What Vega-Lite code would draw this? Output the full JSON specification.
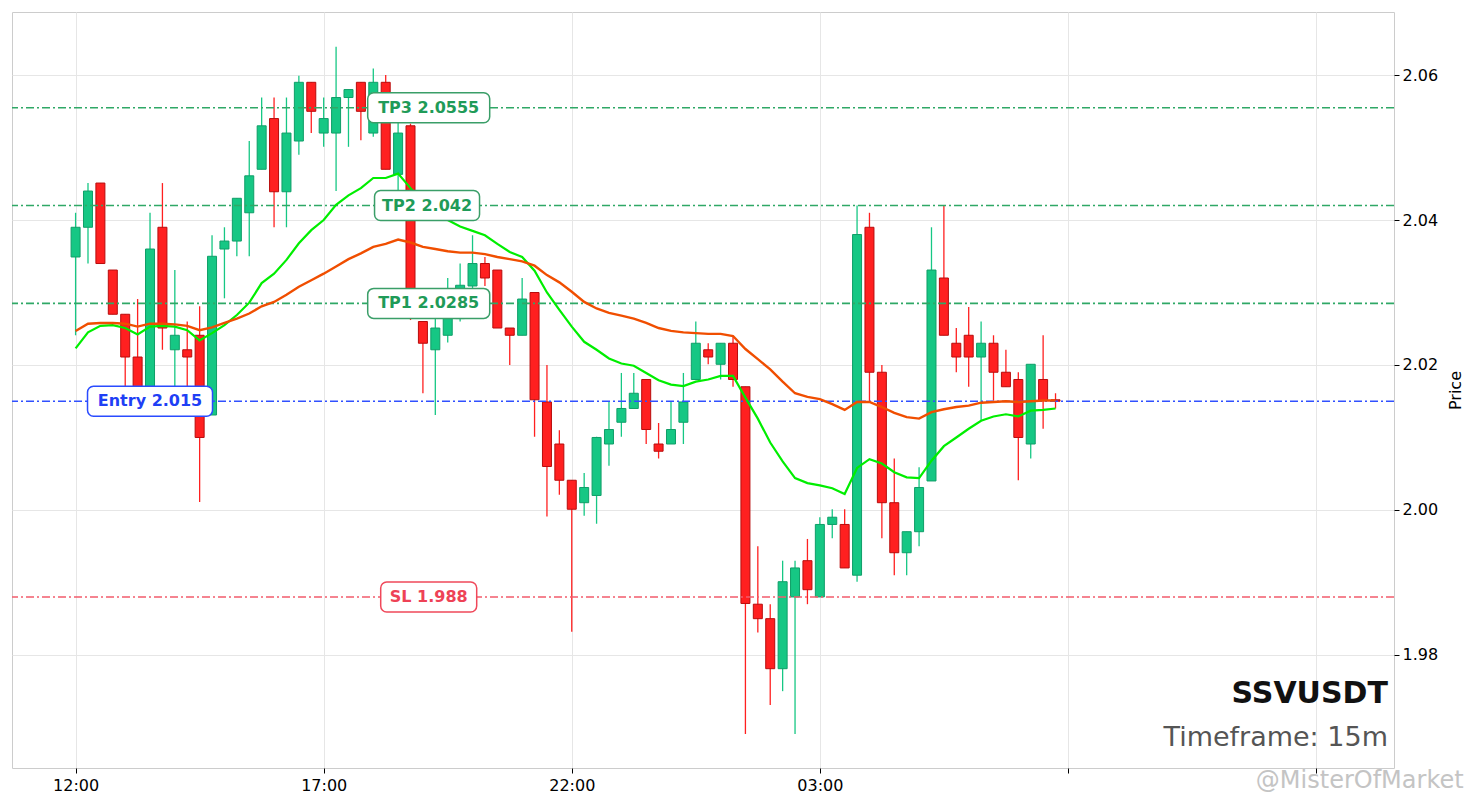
{
  "$schema": "https://vega.github.io/schema/vega-lite/v6.json",
  "width": 1382,
  "height": 756,
  "autosize": "none",
  "padding": {"left": 12, "top": 12, "right": 85, "bottom": 40},
  "background": "white",
  "title": {"text": "@MisterOfMarket", "orient": "bottom", "anchor": "end", "frame": "bounds", "fontSize": 24, "font": "DejaVu Sans", "fontWeight": "normal", "color": "#c4c4c4", "offset": -24},
  "config": {
    "font": "DejaVu Sans",
    "view": {"stroke": "#cccccc", "strokeWidth": 1},
    "axis": {"domain": false, "grid": true, "gridColor": "#e6e6e6", "gridWidth": 1, "tickColor": "#000000", "tickSize": 5, "tickWidth": 1, "labelFontSize": 16, "labelColor": "#000000", "labelFont": "DejaVu Sans", "titleFont": "DejaVu Sans", "titleFontSize": 16, "titleFontWeight": "normal", "titleColor": "#000000"}
  },
  "datasets": {
    "candles": [
      {"t":"2024-01-01T12:00","o":2.0349,"h":2.0410,"l":2.0241,"c":2.0390,"f":2.0223,"s":2.0247},
      {"t":"2024-01-01T12:15","o":2.0390,"h":2.0451,"l":2.0340,"c":2.0440,"f":2.0245,"s":2.0257},
      {"t":"2024-01-01T12:30","o":2.0451,"h":2.0451,"l":2.0340,"c":2.0340,"f":2.0254,"s":2.0258},
      {"t":"2024-01-01T12:45","o":2.0331,"h":2.0331,"l":2.0270,"c":2.0270,"f":2.0255,"s":2.0258},
      {"t":"2024-01-01T13:00","o":2.0270,"h":2.0270,"l":2.0165,"c":2.0211,"f":2.0251,"s":2.0257},
      {"t":"2024-01-01T13:15","o":2.0211,"h":2.0291,"l":2.0160,"c":2.0168,"f":2.0242,"s":2.0253},
      {"t":"2024-01-01T13:30","o":2.0168,"h":2.0410,"l":2.0160,"c":2.0360,"f":2.0253,"s":2.0257},
      {"t":"2024-01-01T13:45","o":2.0390,"h":2.0451,"l":2.0221,"c":2.0251,"f":2.0254,"s":2.0257},
      {"t":"2024-01-01T14:00","o":2.0221,"h":2.0331,"l":2.0165,"c":2.0241,"f":2.0253,"s":2.0256},
      {"t":"2024-01-01T14:15","o":2.0221,"h":2.0260,"l":2.0170,"c":2.0211,"f":2.0248,"s":2.0254},
      {"t":"2024-01-01T14:30","o":2.0241,"h":2.0281,"l":2.0011,"c":2.0100,"f":2.0234,"s":2.0248},
      {"t":"2024-01-01T14:45","o":2.0131,"h":2.0379,"l":2.0131,"c":2.0350,"f":2.0244,"s":2.0252},
      {"t":"2024-01-01T15:00","o":2.0360,"h":2.0390,"l":2.0292,"c":2.0371,"f":2.0255,"s":2.0258},
      {"t":"2024-01-01T15:15","o":2.0371,"h":2.0430,"l":2.0350,"c":2.0430,"f":2.0269,"s":2.0264},
      {"t":"2024-01-01T15:30","o":2.0410,"h":2.0509,"l":2.0350,"c":2.0461,"f":2.0286,"s":2.0271},
      {"t":"2024-01-01T15:45","o":2.0470,"h":2.0569,"l":2.0470,"c":2.0530,"f":2.0313,"s":2.0281},
      {"t":"2024-01-01T16:00","o":2.0540,"h":2.0569,"l":2.0390,"c":2.0439,"f":2.0326,"s":2.0287},
      {"t":"2024-01-01T16:15","o":2.0439,"h":2.0569,"l":2.0390,"c":2.0520,"f":2.0345,"s":2.0297},
      {"t":"2024-01-01T16:30","o":2.0509,"h":2.0599,"l":2.0490,"c":2.0590,"f":2.0368,"s":2.0308},
      {"t":"2024-01-01T16:45","o":2.0590,"h":2.0590,"l":2.0520,"c":2.0550,"f":2.0386,"s":2.0317},
      {"t":"2024-01-01T17:00","o":2.0520,"h":2.0569,"l":2.0501,"c":2.0540,"f":2.0400,"s":2.0326},
      {"t":"2024-01-01T17:15","o":2.0520,"h":2.0639,"l":2.0440,"c":2.0569,"f":2.0421,"s":2.0336},
      {"t":"2024-01-01T17:30","o":2.0569,"h":2.0580,"l":2.0501,"c":2.0580,"f":2.0434,"s":2.0346},
      {"t":"2024-01-01T17:45","o":2.0590,"h":2.0590,"l":2.0510,"c":2.0550,"f":2.0444,"s":2.0354},
      {"t":"2024-01-01T18:00","o":2.0520,"h":2.0609,"l":2.0515,"c":2.0590,"f":2.0458,"s":2.0363},
      {"t":"2024-01-01T18:15","o":2.0590,"h":2.0600,"l":2.0470,"c":2.0470,"f":2.0458,"s":2.0367},
      {"t":"2024-01-01T18:30","o":2.0463,"h":2.0545,"l":2.0441,"c":2.0520,"f":2.0464,"s":2.0373},
      {"t":"2024-01-01T18:45","o":2.0530,"h":2.0533,"l":2.0262,"c":2.0265,"f":2.0444,"s":2.0369},
      {"t":"2024-01-01T19:00","o":2.0260,"h":2.0260,"l":2.0161,"c":2.0230,"f":2.0425,"s":2.0363},
      {"t":"2024-01-01T19:15","o":2.0221,"h":2.0265,"l":2.0131,"c":2.0251,"f":2.0411,"s":2.0360},
      {"t":"2024-01-01T19:30","o":2.0241,"h":2.0320,"l":2.0231,"c":2.0264,"f":2.0400,"s":2.0357},
      {"t":"2024-01-01T19:45","o":2.0264,"h":2.0340,"l":2.0260,"c":2.0310,"f":2.0391,"s":2.0355},
      {"t":"2024-01-01T20:00","o":2.0309,"h":2.0379,"l":2.0300,"c":2.0340,"f":2.0385,"s":2.0355},
      {"t":"2024-01-01T20:15","o":2.0340,"h":2.0349,"l":2.0309,"c":2.0320,"f":2.0379,"s":2.0353},
      {"t":"2024-01-01T20:30","o":2.0331,"h":2.0331,"l":2.0251,"c":2.0251,"f":2.0367,"s":2.0349},
      {"t":"2024-01-01T20:45","o":2.0251,"h":2.0251,"l":2.0200,"c":2.0241,"f":2.0356,"s":2.0346},
      {"t":"2024-01-01T21:00","o":2.0241,"h":2.0320,"l":2.0241,"c":2.0291,"f":2.0349,"s":2.0343},
      {"t":"2024-01-01T21:15","o":2.0300,"h":2.0300,"l":2.0101,"c":2.0152,"f":2.0330,"s":2.0337},
      {"t":"2024-01-01T21:30","o":2.0149,"h":2.0200,"l":1.9991,"c":2.0060,"f":2.0300,"s":2.0324},
      {"t":"2024-01-01T21:45","o":2.0091,"h":2.0110,"l":2.0021,"c":2.0041,"f":2.0276,"s":2.0314},
      {"t":"2024-01-01T22:00","o":2.0041,"h":2.0041,"l":1.9832,"c":2.0001,"f":2.0253,"s":2.0301},
      {"t":"2024-01-01T22:15","o":2.0010,"h":2.0051,"l":1.9992,"c":2.0031,"f":2.0232,"s":2.0287},
      {"t":"2024-01-01T22:30","o":2.0020,"h":2.0101,"l":1.9981,"c":2.0100,"f":2.0221,"s":2.0278},
      {"t":"2024-01-01T22:45","o":2.0091,"h":2.0149,"l":2.0061,"c":2.0111,"f":2.0209,"s":2.0272},
      {"t":"2024-01-01T23:00","o":2.0121,"h":2.0189,"l":2.0101,"c":2.0140,"f":2.0202,"s":2.0268},
      {"t":"2024-01-01T23:15","o":2.0140,"h":2.0189,"l":2.0140,"c":2.0161,"f":2.0199,"s":2.0264},
      {"t":"2024-01-01T23:30","o":2.0180,"h":2.0180,"l":2.0091,"c":2.0111,"f":2.0189,"s":2.0258},
      {"t":"2024-01-01T23:45","o":2.0091,"h":2.0120,"l":2.0071,"c":2.0081,"f":2.0179,"s":2.0251},
      {"t":"2024-01-02T00:00","o":2.0091,"h":2.0149,"l":2.0091,"c":2.0111,"f":2.0173,"s":2.0247},
      {"t":"2024-01-02T00:15","o":2.0121,"h":2.0189,"l":2.0091,"c":2.0149,"f":2.0171,"s":2.0245},
      {"t":"2024-01-02T00:30","o":2.0180,"h":2.0260,"l":2.0180,"c":2.0230,"f":2.0177,"s":2.0244},
      {"t":"2024-01-02T00:45","o":2.0221,"h":2.0230,"l":2.0201,"c":2.0211,"f":2.0180,"s":2.0243},
      {"t":"2024-01-02T01:00","o":2.0201,"h":2.0230,"l":2.0180,"c":2.0230,"f":2.0185,"s":2.0243},
      {"t":"2024-01-02T01:15","o":2.0230,"h":2.0239,"l":2.0170,"c":2.0180,"f":2.0185,"s":2.0240},
      {"t":"2024-01-02T01:30","o":2.0170,"h":2.0170,"l":1.9691,"c":1.9871,"f":2.0155,"s":2.0222},
      {"t":"2024-01-02T01:45","o":1.9870,"h":1.9950,"l":1.9831,"c":1.9850,"f":2.0126,"s":2.0208},
      {"t":"2024-01-02T02:00","o":1.9850,"h":1.9870,"l":1.9731,"c":1.9781,"f":2.0093,"s":2.0194},
      {"t":"2024-01-02T02:15","o":1.9781,"h":1.9930,"l":1.9750,"c":1.9901,"f":2.0067,"s":2.0177},
      {"t":"2024-01-02T02:30","o":1.9880,"h":1.9930,"l":1.9691,"c":1.9920,"f":2.0044,"s":2.0161},
      {"t":"2024-01-02T02:45","o":1.9930,"h":1.9960,"l":1.9870,"c":1.9890,"f":2.0037,"s":2.0156},
      {"t":"2024-01-02T03:00","o":1.9880,"h":1.9990,"l":1.9880,"c":1.9980,"f":2.0034,"s":2.0153},
      {"t":"2024-01-02T03:15","o":1.9980,"h":2.0001,"l":1.9961,"c":1.9990,"f":2.0030,"s":2.0146},
      {"t":"2024-01-02T03:30","o":1.9980,"h":2.0001,"l":1.9920,"c":1.9920,"f":2.0022,"s":2.0138},
      {"t":"2024-01-02T03:45","o":1.9910,"h":2.0420,"l":1.9901,"c":2.0380,"f":2.0058,"s":2.0149},
      {"t":"2024-01-02T04:00","o":2.0390,"h":2.0410,"l":2.0149,"c":2.0190,"f":2.0070,"s":2.0149},
      {"t":"2024-01-02T04:15","o":2.0190,"h":2.0200,"l":1.9961,"c":2.0010,"f":2.0064,"s":2.0142},
      {"t":"2024-01-02T04:30","o":2.0010,"h":2.0071,"l":1.9910,"c":1.9941,"f":2.0052,"s":2.0134},
      {"t":"2024-01-02T04:45","o":1.9941,"h":1.9970,"l":1.9910,"c":1.9970,"f":2.0045,"s":2.0128},
      {"t":"2024-01-02T05:00","o":1.9970,"h":2.0059,"l":1.9950,"c":2.0031,"f":2.0044,"s":2.0126},
      {"t":"2024-01-02T05:15","o":2.0040,"h":2.0390,"l":2.0040,"c":2.0331,"f":2.0068,"s":2.0135},
      {"t":"2024-01-02T05:30","o":2.0320,"h":2.0420,"l":2.0241,"c":2.0241,"f":2.0088,"s":2.0139},
      {"t":"2024-01-02T05:45","o":2.0230,"h":2.0251,"l":2.0190,"c":2.0211,"f":2.0100,"s":2.0142},
      {"t":"2024-01-02T06:00","o":2.0241,"h":2.0280,"l":2.0170,"c":2.0211,"f":2.0112,"s":2.0144},
      {"t":"2024-01-02T06:15","o":2.0211,"h":2.0260,"l":2.0123,"c":2.0230,"f":2.0123,"s":2.0148},
      {"t":"2024-01-02T06:30","o":2.0230,"h":2.0241,"l":2.0151,"c":2.0190,"f":2.0129,"s":2.0149},
      {"t":"2024-01-02T06:45","o":2.0190,"h":2.0221,"l":2.0170,"c":2.0170,"f":2.0132,"s":2.0150},
      {"t":"2024-01-02T07:00","o":2.0180,"h":2.0190,"l":2.0041,"c":2.0100,"f":2.0129,"s":2.0149},
      {"t":"2024-01-02T07:15","o":2.0091,"h":2.0201,"l":2.0071,"c":2.0201,"f":2.0137,"s":2.0150},
      {"t":"2024-01-02T07:30","o":2.0180,"h":2.0241,"l":2.0112,"c":2.0151,"f":2.0138,"s":2.0151},
      {"t":"2024-01-02T07:45","o":2.0152,"h":2.0161,"l":2.0140,"c":2.0150,"f":2.0140,"s":2.0151}
    ],
    "levels": [
      {"name":"TP3","label":"TP3 2.0555","price":2.0555,"kind":"tp","t":"2024-01-01T19:07"},
      {"name":"TP2","label":"TP2 2.042","price":2.042,"kind":"tp","t":"2024-01-01T19:05"},
      {"name":"TP1","label":"TP1 2.0285","price":2.0285,"kind":"tp","t":"2024-01-01T19:07"},
      {"name":"Entry","label":"Entry 2.015","price":2.015,"kind":"entry","t":"2024-01-01T13:30"},
      {"name":"SL","label":"SL 1.988","price":1.988,"kind":"sl","t":"2024-01-01T19:07"}
    ]
  },
  "layer": [
    {
      "data": {"name": "candles"},
      "mark": {"type": "rule", "strokeWidth": 1.3},
      "encoding": {
        "x": {"field": "t", "type": "temporal", "title": null,
          "scale": {"domain": [{"year":2024,"month":1,"date":1,"hours":10,"minutes":43,"seconds":6},{"year":2024,"month":1,"date":2,"hours":14,"minutes":34,"seconds":18}], "nice": false, "padding": 0},
          "axis": {"values": [{"year":2024,"month":1,"date":1,"hours":12},{"year":2024,"month":1,"date":1,"hours":17},{"year":2024,"month":1,"date":1,"hours":22},{"year":2024,"month":1,"date":2,"hours":3},{"year":2024,"month":1,"date":2,"hours":8},{"year":2024,"month":1,"date":2,"hours":13}],
            "labelExpr": "(hours(datum.value) == 8 || hours(datum.value) == 13) ? '' : timeFormat(datum.value, '%H:%M')", "labelPadding": 4, "labelAngle": 0}},
        "y": {"field": "l", "type": "quantitative", "title": "Price",
          "scale": {"domain": [1.9644, 2.0687], "nice": false, "zero": false},
          "axis": {"orient": "right", "values": [1.98, 2.0, 2.02, 2.04, 2.06], "format": ".2f", "labelPadding": 3, "titlePadding": 10, "titleAngle": 270, "titleBaseline": "top"}},
        "y2": {"field": "h"},
        "color": {"condition": {"test": "datum.c >= datum.o", "value": "#16c784"}, "value": "#ff2020"}
      }
    },
    {
      "data": {"name": "candles"},
      "mark": {"type": "bar", "width": 9, "strokeWidth": 1},
      "encoding": {
        "x": {"field": "t", "type": "temporal", "scale": {"domain": [{"year":2024,"month":1,"date":1,"hours":10,"minutes":43,"seconds":6},{"year":2024,"month":1,"date":2,"hours":14,"minutes":34,"seconds":18}], "nice": false, "padding": 0}},
        "y": {"field": "o", "type": "quantitative", "title": "Price", "scale": {"domain": [1.9644, 2.0687], "nice": false, "zero": false}},
        "y2": {"field": "c"},
        "fill": {"condition": {"test": "datum.c >= datum.o", "value": "#16c784"}, "value": "#ff2020"},
        "stroke": {"condition": {"test": "datum.c >= datum.o", "value": "#0f9e68"}, "value": "#b80c0c"}
      }
    },
    {
      "data": {"name": "levels"},
      "mark": {"type": "rule", "strokeWidth": 1.6, "strokeDash": [8, 3, 2, 3]},
      "encoding": {
        "y": {"field": "price", "type": "quantitative", "title": "Price", "scale": {"domain": [1.9644, 2.0687], "nice": false, "zero": false}},
        "color": {"condition": [{"test": "datum.kind == 'entry'", "value": "#3050ff"}, {"test": "datum.kind == 'sl'", "value": "#f25c6c"}], "value": "#2fa866"}
      }
    },
    {
      "data": {"name": "candles"},
      "mark": {"type": "line", "strokeWidth": 2.2, "color": "#00ee00"},
      "encoding": {
        "x": {"field": "t", "type": "temporal", "scale": {"domain": [{"year":2024,"month":1,"date":1,"hours":10,"minutes":43,"seconds":6},{"year":2024,"month":1,"date":2,"hours":14,"minutes":34,"seconds":18}], "nice": false, "padding": 0}},
        "y": {"field": "f", "type": "quantitative", "title": "Price", "scale": {"domain": [1.9644, 2.0687], "nice": false, "zero": false}}
      }
    },
    {
      "data": {"name": "candles"},
      "mark": {"type": "line", "strokeWidth": 2.4, "color": "#f04e00"},
      "encoding": {
        "x": {"field": "t", "type": "temporal", "scale": {"domain": [{"year":2024,"month":1,"date":1,"hours":10,"minutes":43,"seconds":6},{"year":2024,"month":1,"date":2,"hours":14,"minutes":34,"seconds":18}], "nice": false, "padding": 0}},
        "y": {"field": "s", "type": "quantitative", "title": "Price", "scale": {"domain": [1.9644, 2.0687], "nice": false, "zero": false}}
      }
    },
    {
      "data": {"name": "levels"},
      "transform": [{"filter": "datum.name == 'TP3' || datum.name == 'TP1'"}],
      "mark": {"type": "bar", "width": 122, "yOffset": -15, "y2Offset": 15, "cornerRadius": 6, "fill": "white", "strokeWidth": 1.5},
      "encoding": {
        "x": {"field": "t", "type": "temporal", "scale": {"domain": [{"year":2024,"month":1,"date":1,"hours":10,"minutes":43,"seconds":6},{"year":2024,"month":1,"date":2,"hours":14,"minutes":34,"seconds":18}], "nice": false, "padding": 0}},
        "y": {"field": "price", "type": "quantitative", "title": "Price", "scale": {"domain": [1.9644, 2.0687], "nice": false, "zero": false}},
        "y2": {"field": "price"},
        "stroke": {"value": "#3a9e68"}
      }
    },
    {
      "data": {"name": "levels"},
      "transform": [{"filter": "datum.name == 'TP2'"}],
      "mark": {"type": "bar", "width": 105, "yOffset": -15, "y2Offset": 15, "cornerRadius": 6, "fill": "white", "strokeWidth": 1.5},
      "encoding": {
        "x": {"field": "t", "type": "temporal", "scale": {"domain": [{"year":2024,"month":1,"date":1,"hours":10,"minutes":43,"seconds":6},{"year":2024,"month":1,"date":2,"hours":14,"minutes":34,"seconds":18}], "nice": false, "padding": 0}},
        "y": {"field": "price", "type": "quantitative", "title": "Price", "scale": {"domain": [1.9644, 2.0687], "nice": false, "zero": false}},
        "y2": {"field": "price"},
        "stroke": {"value": "#3a9e68"}
      }
    },
    {
      "data": {"name": "levels"},
      "transform": [{"filter": "datum.name == 'Entry'"}],
      "mark": {"type": "bar", "width": 125, "yOffset": -15, "y2Offset": 15, "cornerRadius": 6, "fill": "white", "strokeWidth": 1.5},
      "encoding": {
        "x": {"field": "t", "type": "temporal", "scale": {"domain": [{"year":2024,"month":1,"date":1,"hours":10,"minutes":43,"seconds":6},{"year":2024,"month":1,"date":2,"hours":14,"minutes":34,"seconds":18}], "nice": false, "padding": 0}},
        "y": {"field": "price", "type": "quantitative", "title": "Price", "scale": {"domain": [1.9644, 2.0687], "nice": false, "zero": false}},
        "y2": {"field": "price"},
        "stroke": {"value": "#2a4bff"}
      }
    },
    {
      "data": {"name": "levels"},
      "transform": [{"filter": "datum.name == 'SL'"}],
      "mark": {"type": "bar", "width": 96, "yOffset": -15, "y2Offset": 15, "cornerRadius": 6, "fill": "white", "strokeWidth": 1.5},
      "encoding": {
        "x": {"field": "t", "type": "temporal", "scale": {"domain": [{"year":2024,"month":1,"date":1,"hours":10,"minutes":43,"seconds":6},{"year":2024,"month":1,"date":2,"hours":14,"minutes":34,"seconds":18}], "nice": false, "padding": 0}},
        "y": {"field": "price", "type": "quantitative", "title": "Price", "scale": {"domain": [1.9644, 2.0687], "nice": false, "zero": false}},
        "y2": {"field": "price"},
        "stroke": {"value": "#f0485a"}
      }
    },
    {
      "data": {"name": "levels"},
      "mark": {"type": "text", "fontSize": 16, "fontWeight": "bold", "font": "DejaVu Sans", "align": "center", "baseline": "middle"},
      "encoding": {
        "x": {"field": "t", "type": "temporal", "scale": {"domain": [{"year":2024,"month":1,"date":1,"hours":10,"minutes":43,"seconds":6},{"year":2024,"month":1,"date":2,"hours":14,"minutes":34,"seconds":18}], "nice": false, "padding": 0}},
        "y": {"field": "price", "type": "quantitative", "title": "Price", "scale": {"domain": [1.9644, 2.0687], "nice": false, "zero": false}},
        "text": {"field": "label"},
        "color": {"condition": [{"test": "datum.kind == 'entry'", "value": "#1f3ff5"}, {"test": "datum.kind == 'sl'", "value": "#ee4256"}], "value": "#1f9b58"}
      }
    },
    {
      "data": {"values": [{"txt": "SSVUSDT"}]},
      "mark": {"type": "text", "fontSize": 30, "fontWeight": "bold", "font": "DejaVu Sans", "align": "right", "baseline": "middle", "color": "#111111"},
      "encoding": {
        "x": {"datum": {"year":2024,"month":1,"date":2,"hours":14,"minutes":27}, "type": "temporal"},
        "y": {"datum": 1.9746, "type": "quantitative"},
        "text": {"field": "txt"}
      }
    },
    {
      "data": {"values": [{"txt": "Timeframe: 15m"}]},
      "mark": {"type": "text", "fontSize": 27, "font": "DejaVu Sans", "align": "right", "baseline": "middle", "color": "#555555"},
      "encoding": {
        "x": {"datum": {"year":2024,"month":1,"date":2,"hours":14,"minutes":27}, "type": "temporal"},
        "y": {"datum": 1.9686, "type": "quantitative"},
        "text": {"field": "txt"}
      }
    }
  ]
}
